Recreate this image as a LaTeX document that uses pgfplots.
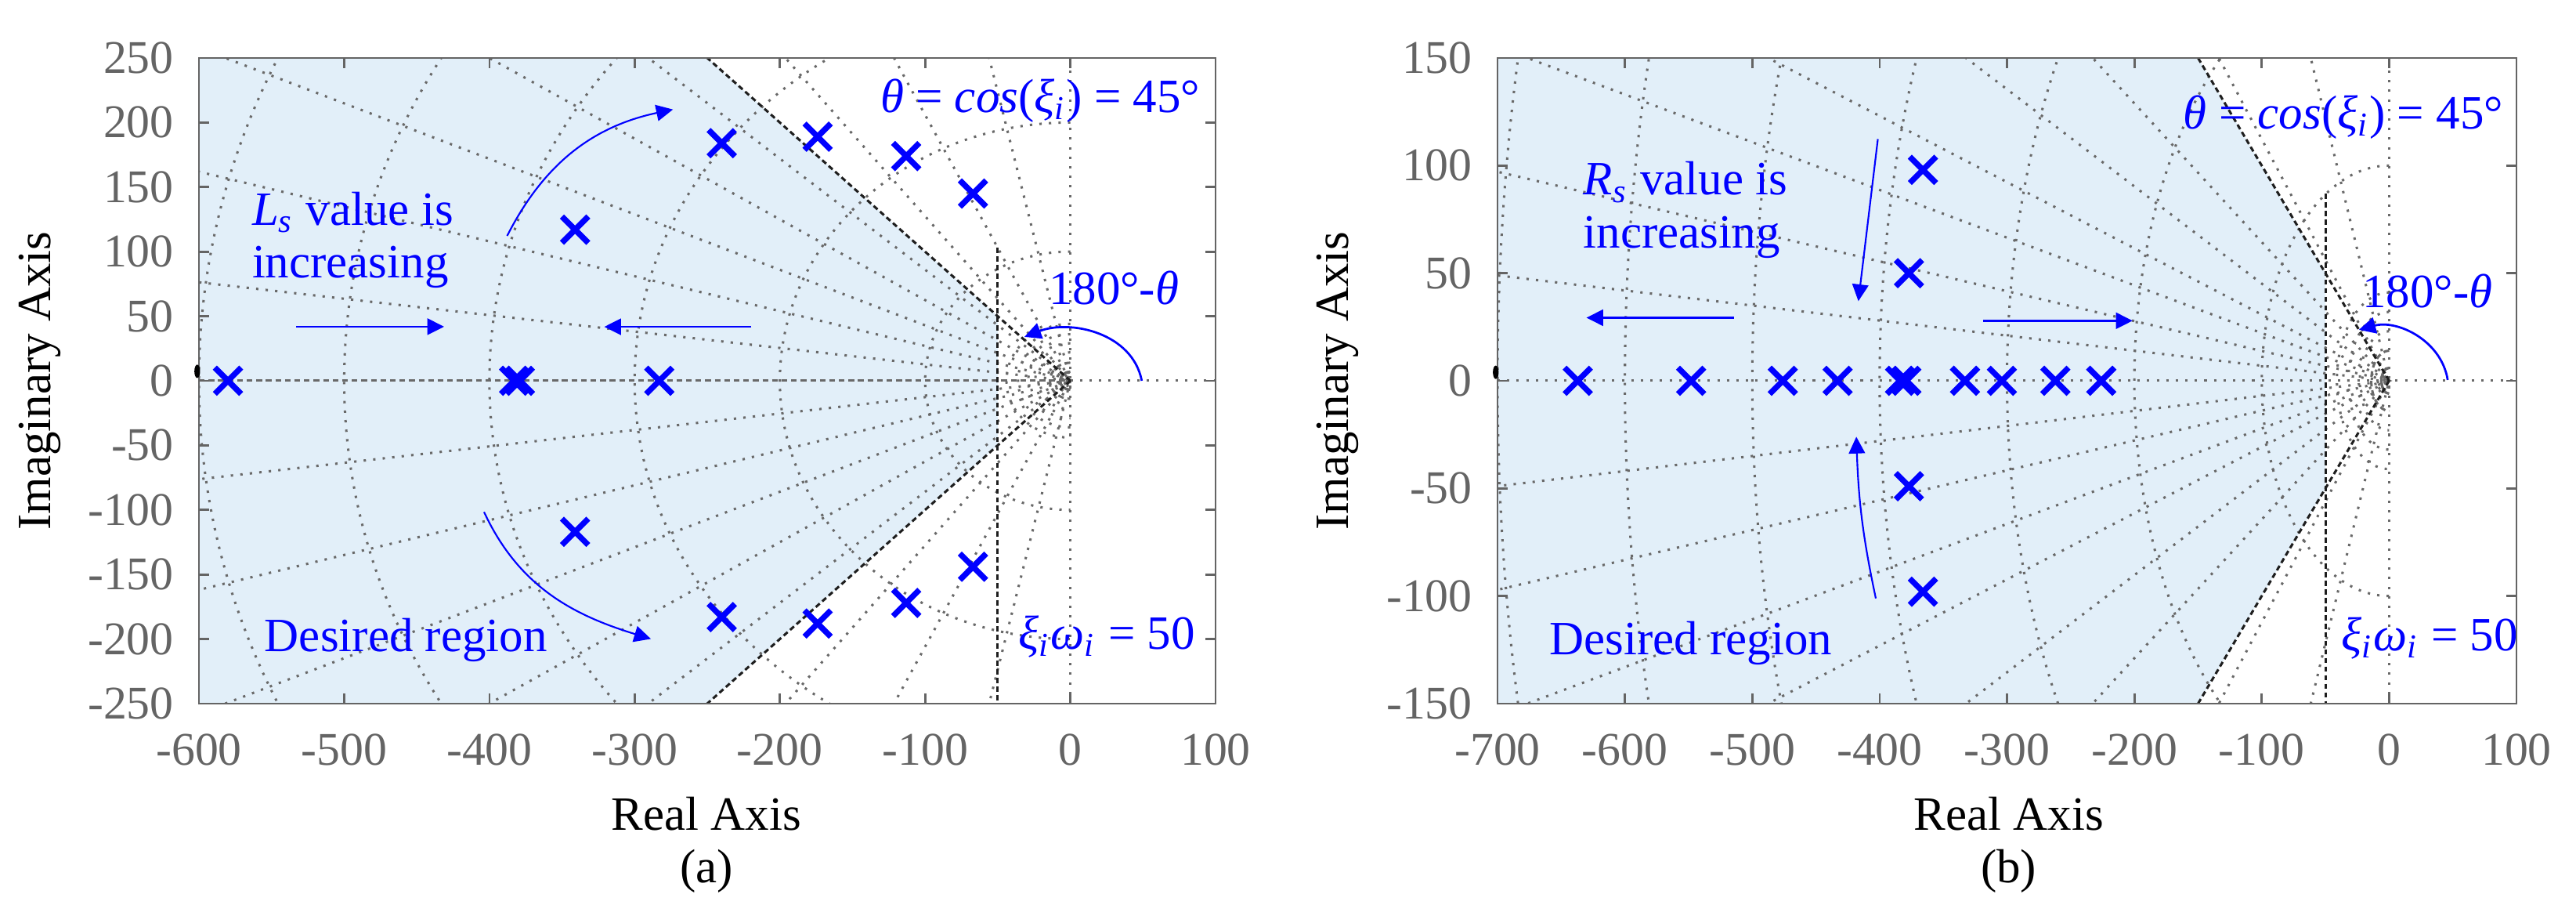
\documentclass[border=0pt]{standalone}
\usepackage{fontspec}
\setmainfont{Liberation Serif}
\usepackage{pgfplots}
\pgfplotsset{compat=1.18}
\usetikzlibrary{arrows.meta}

\definecolor{axgray}{RGB}{100,100,100}
\definecolor{gridgray}{RGB}{105,105,105}
\definecolor{regionblue}{RGB}{226,239,249}
\definecolor{ann}{RGB}{0,0,255}
\definecolor{cblack}{RGB}{30,30,30}

\newcommand{\fs}{\fontsize{10}{12}\selectfont}

\tikzset{
  gridline/.style={gridgray, line width=0.5pt, dash pattern=on 0.5pt off 1.5pt},
  gridsolid/.style={gridgray, line width=0.55pt},
  gridgap/.style={gridgray, line width=0.5pt, dash pattern=on 1.2pt off 0.8pt},
  cline/.style={cblack, line width=0.5pt, dash pattern=on 1.1pt off 0.7pt},
  annarrow/.style={ann, line width=0.45pt, -{Triangle[length=3.5pt,width=3.4pt]}},
  anncurve/.style={ann, line width=0.35pt, -{Triangle[length=3.5pt,width=3.4pt]}},
  anntext/.style={ann, font=\fs, inner sep=0pt},
}

\pgfplotsset{
  rl/.style={
    scale only axis, height=135.14pt,
    axis on top,
    axis line style={axgray, line width=0.45pt},
    tick style={axgray, line width=0.45pt},
    major tick length=2.1pt,
    tick align=inside,
    ticklabel style={font=\fontsize{9.8}{11}\selectfont, text=axgray, inner sep=0pt},
    xticklabel style={anchor=base, yshift=-12.8pt},
    yticklabel style={anchor=east, xshift=-5.1pt},
    anchor=south west,
  },
  poles/.style={only marks, mark=x, mark size=3.9pt, mark options={line width=1.2pt, draw=ann}},
}

\newcommand{\settle}{\textit{ξ}\textsubscript{\textit{i}}\textit{ω}\textsubscript{\textit{i}} = 50}

\begin{document}
\begin{tikzpicture}
\useasboundingbox (0,0) rectangle (539.40pt,189.42pt);

% ---------------- (a) ----------------
\def\xu{0.3041pt}
\def\yu{0.27028pt}
\begin{axis}[rl, at={(41.66pt,42.15pt)}, width=212.87pt,
  xmin=-600, xmax=100, ymin=-250, ymax=250,
  xtick={-600,-500,-400,-300,-200,-100,0,100},
  xticklabels={-600,-500,-400,-300,-200,-100,0,100},
  ytick={-250,-200,-150,-100,-50,0,50,100,150,200,250},
  yticklabels={-250,-200,-150,-100,-50,0,50,100,150,200,250}]
  \fill[regionblue] (axis cs:-600,250) -- (axis cs:-250,250) -- (axis cs:-50,50) -- (axis cs:-50,-50) -- (axis cs:-250,-250) -- (axis cs:-600,-250) -- cycle;
  % damping lines
  \draw[gridline] (axis cs:-992.03,126.03) -- (axis cs:0,0) -- (axis cs:-992.03,-126.03);
  \draw[gridline] (axis cs:-965.47,260.50) -- (axis cs:0,0) -- (axis cs:-965.47,-260.50);
  \draw[gridline] (axis cs:-918.79,394.74) -- (axis cs:0,0) -- (axis cs:-918.79,-394.74);
  \draw[gridline] (axis cs:-848.05,529.92) -- (axis cs:0,0) -- (axis cs:-848.05,-529.92);
  \draw[gridline] (axis cs:-758.13,652.10) -- (axis cs:0,0) -- (axis cs:-758.13,-652.10);
  \draw[gridline] (axis cs:-617.30,786.72) -- (axis cs:0,0) -- (axis cs:-617.30,-786.72);
  \draw[gridline] (axis cs:-436.80,899.56) -- (axis cs:0,0) -- (axis cs:-436.80,-899.56);
  \draw[gridline] (axis cs:-218.14,975.92) -- (axis cs:0,0) -- (axis cs:-218.14,-975.92);
  \draw[gridline] (axis cs:0,-250) -- (axis cs:0,250);
  \draw[gridline] (axis cs:0,0) -- (axis cs:100,0);
  \draw[gridgap] (axis cs:-600,0) -- (axis cs:0,0);
  % natural frequency arcs
  \draw[gridline] (axis cs:0,100) arc[start angle=90, end angle=270, x radius=100*\xu, y radius=100*\yu];
  \draw[gridline] (axis cs:0,200) arc[start angle=90, end angle=270, x radius=200*\xu, y radius=200*\yu];
  \draw[gridline] (axis cs:0,300) arc[start angle=90, end angle=270, x radius=300*\xu, y radius=300*\yu];
  \draw[gridline] (axis cs:0,400) arc[start angle=90, end angle=270, x radius=400*\xu, y radius=400*\yu];
  \draw[gridline] (axis cs:0,500) arc[start angle=90, end angle=270, x radius=500*\xu, y radius=500*\yu];
  \draw[gridline] (axis cs:0,600) arc[start angle=90, end angle=270, x radius=600*\xu, y radius=600*\yu];
  \draw[gridsolid] (axis cs:0,7) arc[start angle=90, end angle=270, x radius=7*\xu, y radius=7*\yu];
  \draw[gridgap] (axis cs:0,14) arc[start angle=90, end angle=270, x radius=14*\xu, y radius=14*\yu];
  \draw[gridline] (axis cs:0,22) arc[start angle=90, end angle=270, x radius=22*\xu, y radius=22*\yu];
  \draw[gridline] (axis cs:0,29) arc[start angle=90, end angle=270, x radius=29*\xu, y radius=29*\yu];
  \draw[gridline] (axis cs:0,36) arc[start angle=90, end angle=270, x radius=36*\xu, y radius=36*\yu];
  \draw[gridline] (axis cs:0,44) arc[start angle=90, end angle=270, x radius=44*\xu, y radius=44*\yu];
  % constraint lines
  \draw[cline] (axis cs:0,0) -- (axis cs:-260,260);
  \draw[cline] (axis cs:0,0) -- (axis cs:-260,-260);
  \draw[cline] (axis cs:-50,103) -- (axis cs:-50,-250);
  % poles
  \addplot[poles] coordinates {
    (-580,0) (-383,0) (-379,0) (-283,0)
    (-341,117) (-341,-117)
    (-240,184) (-240,-183)
    (-174,189) (-174,-188)
    (-113,174) (-113,-172)
    (-67,145) (-67,-144)
  };
  % annotations
  \node[anchor=base west, anntext] at (axis cs:-564,120.3) {\textit{L}\textsubscript{\textit{s}} value is};
  \node[anchor=base west, anntext] at (axis cs:-564,79.7) {increasing};
  \node[anchor=base west, anntext] at (axis cs:-555.4,-209.7) {Desired region};
  \node[anchor=base west, anntext] at (axis cs:-131.4,207.9) {\textit{θ} = \textit{cos}(\textit{ξ}\textsubscript{\textit{i}}) = 45°};
  \node[anchor=base west, anntext] at (axis cs:-15.5,59.3) {180°-\textit{θ}};
  \node[anchor=base west, anntext] at (axis cs:-36.1,-207.7) {\settle};
  \draw[annarrow] (axis cs:-532.9,41.9) -- (axis cs:-431.2,41.9);
  \draw[annarrow] (axis cs:-219.6,41.8) -- (axis cs:-320.9,41.8);
  \draw[anncurve] (axis cs:-387.8,112.2) to[out=63, in=192] (axis cs:-273.6,210.1);
  \draw[anncurve] (axis cs:-403.7,-101.6) to[out=-65, in=163] (axis cs:-288.8,-199.9);
  \draw[annarrow] (axis cs:49.2,0) to[out=101, in=21] (axis cs:-31.6,34);
\end{axis}

% ---------------- (b) ----------------
\def\xu{0.2667pt}
\def\yu{0.450467pt}
\begin{axis}[rl, at={(313.57pt,42.15pt)}, width=213.36pt,
  xmin=-700, xmax=100, ymin=-150, ymax=150,
  xtick={-700,-600,-500,-400,-300,-200,-100,0,100},
  xticklabels={-700,-600,-500,-400,-300,-200,-100,0,100},
  ytick={-150,-100,-50,0,50,100,150},
  yticklabels={-150,-100,-50,0,50,100,150}]
  \fill[regionblue] (axis cs:-700,150) -- (axis cs:-150,150) -- (axis cs:-50,50) -- (axis cs:-50,-50) -- (axis cs:-150,-150) -- (axis cs:-700,-150) -- cycle;
  \draw[gridline] (axis cs:-997.56,69.76) -- (axis cs:0,0) -- (axis cs:-997.56,-69.76);
  \draw[gridline] (axis cs:-990.51,137.44) -- (axis cs:0,0) -- (axis cs:-990.51,-137.44);
  \draw[gridline] (axis cs:-976.30,216.44) -- (axis cs:0,0) -- (axis cs:-976.30,-216.44);
  \draw[gridline] (axis cs:-955.79,294.04) -- (axis cs:0,0) -- (axis cs:-955.79,-294.04);
  \draw[gridline] (axis cs:-911.40,411.51) -- (axis cs:0,0) -- (axis cs:-911.40,-411.51);
  \draw[gridline] (axis cs:-840.57,541.71) -- (axis cs:0,0) -- (axis cs:-840.57,-541.71);
  \draw[gridline] (axis cs:-665.23,746.64) -- (axis cs:0,0) -- (axis cs:-665.23,-746.64);
  \draw[gridline] (axis cs:-379.46,925.21) -- (axis cs:0,0) -- (axis cs:-379.46,-925.21);
  \draw[gridline] (axis cs:0,-150) -- (axis cs:0,150);
  \draw[gridline] (axis cs:-700,0) -- (axis cs:100,0);
  \draw[gridline] (axis cs:0,100) arc[start angle=90, end angle=270, x radius=100*\xu, y radius=100*\yu];
  \draw[gridline] (axis cs:0,200) arc[start angle=90, end angle=270, x radius=200*\xu, y radius=200*\yu];
  \draw[gridline] (axis cs:0,300) arc[start angle=90, end angle=270, x radius=300*\xu, y radius=300*\yu];
  \draw[gridline] (axis cs:0,400) arc[start angle=90, end angle=270, x radius=400*\xu, y radius=400*\yu];
  \draw[gridline] (axis cs:0,500) arc[start angle=90, end angle=270, x radius=500*\xu, y radius=500*\yu];
  \draw[gridline] (axis cs:0,600) arc[start angle=90, end angle=270, x radius=600*\xu, y radius=600*\yu];
  \draw[gridline] (axis cs:0,700) arc[start angle=90, end angle=270, x radius=700*\xu, y radius=700*\yu];
  \draw[gridsolid] (axis cs:0,6) arc[start angle=90, end angle=270, x radius=6*\xu, y radius=6*\yu];
  \draw[gridgap] (axis cs:0,14) arc[start angle=90, end angle=270, x radius=14*\xu, y radius=14*\yu];
  \draw[gridline] (axis cs:0,23) arc[start angle=90, end angle=270, x radius=23*\xu, y radius=23*\yu];
  \draw[gridline] (axis cs:0,32) arc[start angle=90, end angle=270, x radius=32*\xu, y radius=32*\yu];
  \draw[gridline] (axis cs:0,41) arc[start angle=90, end angle=270, x radius=41*\xu, y radius=41*\yu];
  \draw[cline] (axis cs:0,0) -- (axis cs:-160,160);
  \draw[cline] (axis cs:0,0) -- (axis cs:-160,-160);
  \draw[cline] (axis cs:-50,87) -- (axis cs:-50,-150);
  \addplot[poles] coordinates {
    (-637,0) (-548,0) (-476,0) (-433,0) (-384,0) (-379,0)
    (-333,0) (-304,0) (-262,0) (-226,0)
    (-366,98) (-366,-98) (-377,50) (-377,-49)
  };
  \node[anchor=base west, anntext] at (axis cs:-633.2,86.3) {\textit{R}\textsubscript{\textit{s}} value is};
  \node[anchor=base west, anntext] at (axis cs:-633.2,61.7) {increasing};
  \node[anchor=base west, anntext] at (axis cs:-659.9,-127.3) {Desired region};
  \node[anchor=base west, anntext] at (axis cs:-162.1,117) {\textit{θ} = \textit{cos}(\textit{ξ}\textsubscript{\textit{i}}) = 45°};
  \node[anchor=base west, anntext] at (axis cs:-21.6,34.0) {180°-\textit{θ}};
  \node[anchor=base west, anntext] at (axis cs:-38,-125.3) {\settle};
  \draw[annarrow] (axis cs:-514.4,29.3) -- (axis cs:-630.2,29.3);
  \draw[annarrow] (axis cs:-318.7,27.9) -- (axis cs:-201.4,27.9);
  \draw[anncurve] (axis cs:-401.4,112.3) -- (axis cs:-416.7,37);
  \draw[anncurve] (axis cs:-403,-101.1) to[out=102, in=-88] (axis cs:-418.3,-26);
  \draw[annarrow] (axis cs:46,0.4) to[out=99, in=15] (axis cs:-23.7,23.7);
\end{axis}

% small black markers at left edges
\fill[black] (41.3pt,111.7pt) ellipse (0.6pt and 1.4pt);
\fill[black] (313.2pt,111.5pt) ellipse (0.6pt and 1.4pt);

% labels
\node[rotate=90, anchor=base, font=\fs] at (10.5pt,109.7pt) {Imaginary Axis};
\node[rotate=90, anchor=base, font=\fs] at (282.4pt,109.7pt) {Imaginary Axis};
\node[anchor=base, font=\fs, inner sep=0pt] at (147.9pt,15.7pt) {Real Axis};
\node[anchor=base, font=\fs, inner sep=0pt] at (420.6pt,15.7pt) {Real Axis};
\node[anchor=base, font=\fs, inner sep=0pt] at (147.9pt,4.6pt) {(a)};
\node[anchor=base, font=\fs, inner sep=0pt] at (420.6pt,4.6pt) {(b)};
\end{tikzpicture}
\end{document}
